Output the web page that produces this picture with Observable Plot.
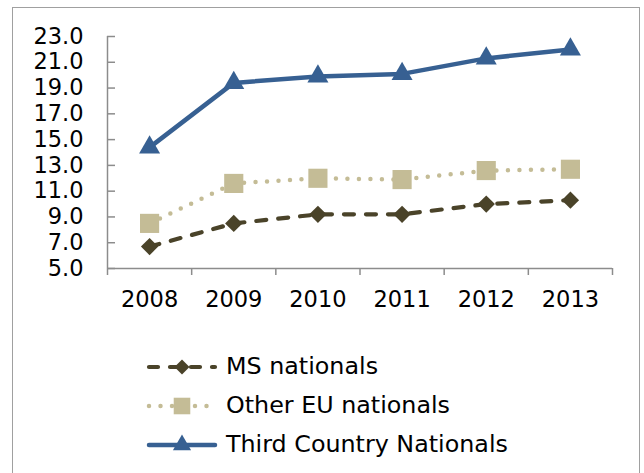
<!DOCTYPE html>
<html>
<head>
<meta charset="utf-8">
<script src="https://cdn.jsdelivr.net/npm/d3@7"></script>
<script src="https://cdn.jsdelivr.net/npm/@observablehq/plot@0.6"></script>
<style>
  html, body { margin: 0; padding: 0; background: #fff; }
  body { width: 644px; height: 473px; position: relative; overflow: hidden; font-family: "DejaVu Sans", Verdana, sans-serif; }
  #frame { position: absolute; left: 12px; top: 7px; width: 628px; height: 500px; border: 1.5px solid #a0a0a0; box-sizing: border-box; }
  #chart { position: absolute; left: 0; top: 0; }
  #legend { position: absolute; left: 145px; top: 347px; }
  .row { display: flex; align-items: center; height: 39px; }
  .row span { font-size: 23.8px; color: #000; margin-left: 7px; line-height: 1; }
</style>
</head>
<body>
<div id="frame"></div>
<div id="chart"></div>
<div id="legend"></div>
<script>
const years = [2008, 2009, 2010, 2011, 2012, 2013];
const msNationals = [6.7, 8.5, 9.2, 9.2, 10.0, 10.3];
const otherEU = [8.5, 11.6, 12.0, 11.9, 12.6, 12.7];
const thirdCountry = [14.4, 19.4, 19.9, 20.1, 21.3, 22.0];
const yTicks = [5, 7, 9, 11, 13, 15, 17, 19, 21, 23];
const seriesNames = ["MS nationals", "Other EU nationals", "Third Country Nationals"];

const series = [
  {name: seriesNames[0], values: msNationals, color: "#4a4329", width: 4.2, dash: "10,12", symbol: "diamond2", r: 7.8},
  {name: seriesNames[1], values: otherEU, color: "#c4bc96", width: 4.5, dash: "0,11.5", symbol: "square", r: 10.8},
  {name: seriesNames[2], values: thirdCountry, color: "#376092", width: 4.5, dash: null, symbol: "triangle", r: 7.8}
];

const data = series.flatMap(s => years.map((yr, i) => ({series: s.name, year: yr, value: s.values[i]})));
const bounds = [...years.map(y => y - 0.5), years[years.length - 1] + 0.5];
const axisColor = "#8c8c8c";
const W = 644, ML = 107, MR = 32;

const marks = [
  Plot.ruleX([bounds[0]], {stroke: axisColor, strokeWidth: 1.5}),
  Plot.ruleY([yTicks[0]], {stroke: axisColor, strokeWidth: 1.5}),
  Plot.tickY(yTicks, {y: d => d, stroke: axisColor, strokeWidth: 1.5, insetRight: W - ML - MR - 8}),
  Plot.axisY({ticks: yTicks, tickSize: 0, tickPadding: 24, tickFormat: d => d.toFixed(1), fontSize: 22.5, fill: "#000", label: null}),
  Plot.axisX({ticks: years, tickSize: 0, tickPadding: 23, tickFormat: d => String(d), fontSize: 22.5, fill: "#000", label: null}),
  Plot.axisX({ticks: bounds, tickSize: 7, tickFormat: () => "", stroke: axisColor, strokeWidth: 1.5, label: null})
];
for (const s of series) {
  const d = data.filter(r => r.series === s.name);
  marks.push(Plot.line(d, {x: "year", y: "value", stroke: s.color, strokeWidth: s.width, strokeDasharray: s.dash, strokeLinecap: "round", strokeLinejoin: "round"}));
}
for (const s of series) {
  const d = data.filter(r => r.series === s.name);
  marks.push(Plot.dot(d, {x: "year", y: "value", symbol: () => s.symbol, fill: s.color, stroke: "none", r: s.r}));
}

const chart = Plot.plot({
  width: W,
  height: 320,
  marginLeft: ML,
  marginRight: MR,
  marginTop: 36,
  marginBottom: 52,
  style: {fontFamily: "'DejaVu Sans', Verdana, sans-serif", background: "transparent"},
  x: {type: "linear", domain: [bounds[0], bounds[bounds.length - 1]], axis: null},
  y: {domain: [yTicks[0], yTicks[yTicks.length - 1]], axis: null},
  symbol: {type: "identity"},
  marks
});
document.getElementById("chart").appendChild(chart);

// Legend
const legend = d3.select("#legend");
for (const s of series) {
  const row = legend.append("div").attr("class", "row");
  const svg = row.append("svg").attr("width", 74).attr("height", 24);
  svg.append("line").attr("x1", 4).attr("x2", 70).attr("y1", 12).attr("y2", 12)
    .attr("stroke", s.color).attr("stroke-width", s.width)
    .attr("stroke-dasharray", s.dash === "10,12" ? "9,12" : s.dash)
    .attr("stroke-linecap", "round");
  const sym = {diamond2: d3.symbolDiamond2, square: d3.symbolSquare, triangle: d3.symbolTriangle}[s.symbol];
  svg.append("path").attr("transform", "translate(37,12)")
    .attr("d", d3.symbol(sym, s.r * s.r * Math.PI * 0.75)())
    .attr("fill", s.color);
  row.append("span").text(s.name);
}
</script>
</body>
</html>
